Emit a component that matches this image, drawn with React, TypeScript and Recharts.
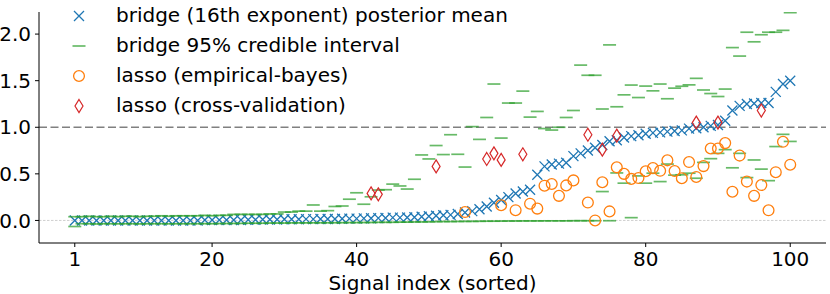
import React from 'react';
import { ScatterChart, Scatter, XAxis, YAxis, ReferenceLine, Legend, Label } from 'recharts';

const signalIndex = [
  1, 2, 3, 4, 5, 6, 7, 8, 9, 10, 11, 12, 13, 14, 15, 16, 17, 18, 19, 20,
  21, 22, 23, 24, 25, 26, 27, 28, 29, 30, 31, 32, 33, 34, 35, 36, 37, 38, 39, 40,
  41, 42, 43, 44, 45, 46, 47, 48, 49, 50, 51, 52, 53, 54, 55, 56, 57, 58, 59, 60,
  61, 62, 63, 64, 65, 66, 67, 68, 69, 70, 71, 72, 73, 74, 75, 76, 77, 78, 79, 80,
  81, 82, 83, 84, 85, 86, 87, 88, 89, 90, 91, 92, 93, 94, 95, 96, 97, 98, 99, 100,
];

const posteriorMean = [
  0, 0, 0, 0, 0, 0, 0, 0, 0, 0,
  0, 0, 0, 0, 0, 0, 0, 0, 0.005, 0.005,
  0.005, 0.005, 0.005, 0.005, 0.008, 0.008, 0.01, 0.01, 0.01, 0.012,
  0.012, 0.012, 0.014, 0.014, 0.015, 0.015, 0.016, 0.018, 0.02, 0.02,
  0.022, 0.024, 0.025, 0.027, 0.03, 0.03, 0.032, 0.035, 0.04, 0.045,
  0.05, 0.055, 0.06, 0.07, 0.085, 0.1, 0.12, 0.15, 0.19, 0.22,
  0.25, 0.29, 0.31, 0.33, 0.49, 0.58, 0.6, 0.61, 0.62, 0.69,
  0.72, 0.75, 0.78, 0.81, 0.85, 0.86, 0.89, 0.905, 0.915, 0.93,
  0.94, 0.945, 0.953, 0.96, 0.967, 0.985, 0.99, 1.0, 1.015, 1.025,
  1.07, 1.18, 1.23, 1.25, 1.255, 1.26, 1.26, 1.38, 1.465, 1.5,
];

const credibleUpper = [
  0.04, 0.04, 0.045, 0.04, 0.04, 0.045, 0.04, 0.045, 0.045, 0.04,
  0.045, 0.045, 0.05, 0.045, 0.05, 0.05, 0.05, 0.05, 0.055, 0.05,
  0.055, 0.055, 0.065, 0.065, 0.065, 0.065, 0.065, 0.07, 0.07, 0.09,
  0.09, 0.1, 0.1, 0.166, 0.1, 0.105, 0.15, 0.155, 0.228, 0.297,
  0.174, 0.254, 0.326, 0.33, 0.39, 0.37, 0.337, 0.442, 0.703, 0.66,
  0.804, 0.707, 0.92, 0.71, 0.573, 1.007, 0.87, 1.105, 1.464, 0.884,
  1.26, 1.26, 1.388, 1.109, 1.17, 0.986, 0.97, 1.0, 1.105, 1.18,
  1.667, 1.558, 1.558, 1.196, 1.884, 1.22, 1.348, 1.453, 1.319, 1.442,
  1.391, 1.464, 1.306, 1.42, 1.44, 1.455, 1.525, 1.4, 1.362, 1.33,
  1.41, 1.855, 1.764, 2.02, 1.917, 1.993, 2.02, 2.02, 2.04, 2.23,
];

const credibleLower = [
  -0.065, -0.035, -0.035, -0.038, -0.035, -0.035, -0.036, -0.035, -0.035, -0.037,
  -0.035, -0.035, -0.035, -0.036, -0.035, -0.035, -0.035, -0.035, -0.034, -0.035,
  -0.033, -0.033, -0.032, -0.032, -0.03, -0.03, -0.03, -0.028, -0.028, -0.028,
  -0.026, -0.026, -0.026, -0.025, -0.025, -0.025, -0.024, -0.024, -0.023, -0.023,
  -0.022, -0.022, -0.02, -0.02, -0.02, -0.018, -0.018, -0.016, -0.016, -0.015,
  -0.013, -0.012, -0.012, -0.011, -0.01, -0.01, -0.009, -0.008, -0.008, -0.007,
  -0.006, -0.006, -0.005, -0.005, -0.005, -0.004, -0.004, -0.004, -0.004, -0.003,
  -0.003, -0.003, -0.003, 0.31, -0.003, 0.51, 0.4, 0.03, 0.478, 0.4,
  0.507, 0.417, 0.605, 0.486, 0.49, 0.507, 0.453, 0.623, 0.663, 0.72,
  0.76, 0.565, 0.72, 0.46, 0.649, 0.551, 0.427, 0.793, 0.924, 0.848,
];

const lassoEbIndex = [
  55, 60, 62, 64, 65, 66, 67, 68, 69, 70, 72, 73, 74, 75,
  76, 77, 78, 79, 80, 81, 82, 83, 84, 85, 86, 87, 88, 89, 90,
  91, 92, 93, 94, 95, 96, 97, 98, 99, 100,
];
const lassoEbValue = [
  0.09, 0.163, 0.11, 0.18, 0.127, 0.373, 0.391, 0.264, 0.376, 0.43, 0.192, 0.0, 0.41, 0.097,
  0.57, 0.5, 0.446, 0.455, 0.528, 0.562, 0.533, 0.645, 0.53, 0.453, 0.627, 0.467, 0.583, 0.772, 0.772,
  0.83, 0.308, 0.696, 0.417, 0.264, 0.38, 0.109, 0.518, 0.844, 0.598,
];

const lassoCvIndex = [42, 43, 51, 58, 59, 60, 63, 72, 74, 76, 87, 90, 96];
const lassoCvValue = [0.29, 0.28, 0.58, 0.66, 0.72, 0.65, 0.71, 0.92, 0.76, 0.91, 1.05, 1.05, 1.18];

const xTicks = [1, 20, 40, 60, 80, 100];
const yTicks = [0, 0.5, 1, 1.5, 2];

const legendLabels = [
  'bridge (16th exponent) posterior mean',
  'bridge 95% credible interval',
  'lasso (empirical-bayes)',
  'lasso (cross-validation)',
];

const BLUE = '#1f77b4';
const GREEN = '#2ca02c';
const ORANGE = '#ff7f0e';
const RED = '#d62728';
const FONT = '"DejaVu Sans", sans-serif';

const meanData = signalIndex.map((x, i) => ({ x, y: posteriorMean[i] }));
const upperData = signalIndex.map((x, i) => ({ x, y: credibleUpper[i] }));
const lowerData = signalIndex.map((x, i) => ({ x, y: credibleLower[i] }));
const ebData = lassoEbIndex.map((x, i) => ({ x, y: lassoEbValue[i] }));
const cvData = lassoCvIndex.map((x, i) => ({ x, y: lassoCvValue[i] }));

const xPath = (cx: number, cy: number, s: number) =>
  `M${cx - s},${cy - s}L${cx + s},${cy + s}M${cx - s},${cy + s}L${cx + s},${cy - s}`;
const dPath = (cx: number, cy: number, w: number, h: number) =>
  `M${cx},${cy - h}L${cx + w},${cy}L${cx},${cy + h}L${cx - w},${cy}Z`;

const XShape = (p: any) => (
  <path d={xPath(p.cx, p.cy, 5)} stroke={BLUE} strokeWidth={1.3} fill="none" />
);
const DashShape = (p: any) => (
  <line x1={p.cx - 6.5} x2={p.cx + 6.5} y1={p.cy} y2={p.cy} stroke={GREEN} strokeWidth={1.7} strokeOpacity={0.72} />
);
const CircleShape = (p: any) => (
  <circle cx={p.cx} cy={p.cy} r={5.4} stroke={ORANGE} strokeWidth={1.3} fill="none" />
);
const DiamondShape = (p: any) => (
  <path d={dPath(p.cx, p.cy, 4, 6.5)} stroke={RED} strokeWidth={1.2} fill="none" />
);

const renderLegend = () => {
  const mx = 79;
  const tx = 116;
  const rows = [16, 46, 76, 106];
  return (
    <svg width={520} height={125} style={{ display: 'block' }}>
      <path d={xPath(mx, rows[0], 5)} stroke={BLUE} strokeWidth={1.3} fill="none" />
      <line x1={mx - 6.5} x2={mx + 6.5} y1={rows[1]} y2={rows[1]} stroke={GREEN} strokeWidth={1.7} strokeOpacity={0.72} />
      <circle cx={mx} cy={rows[2]} r={5.4} stroke={ORANGE} strokeWidth={1.3} fill="none" />
      <path d={dPath(mx, rows[3], 4, 6.5)} stroke={RED} strokeWidth={1.2} fill="none" />
      {legendLabels.map((t, i) => (
        <text key={t} x={tx} y={rows[i] + 5.7} fontFamily={FONT} fontSize={20} fill="#000">
          {t}
        </text>
      ))}
    </svg>
  );
};

const renderXLabel = (props: any) => {
  const vb = props.viewBox || {};
  const cx = (vb.x ?? 39) + (vb.width ?? 787) / 2;
  return (
    <text x={cx} y={289.5} textAnchor="middle" fontFamily={FONT} fontSize={20} fill="#000">
      Signal index (sorted)
    </text>
  );
};

export default function App() {
  return (
    <div style={{ position: 'absolute', left: 0, top: 0, width: 830, height: 294, background: '#fff' }}>
      <ScatterChart width={830} height={294} margin={{ top: 12, right: 4, bottom: 0, left: 0 }}>
        <XAxis
          type="number"
          dataKey="x"
          domain={[-3.95, 104.95]}
          ticks={xTicks}
          allowDataOverflow
          height={51}
          tickSize={4}
          tickMargin={5}
          stroke="#000"
          tick={{ fill: '#000', fontSize: 20, fontFamily: FONT }}
          tickLine={{ stroke: '#000' }}
          axisLine={{ stroke: '#000', strokeWidth: 1 }}
        >
          <Label content={renderXLabel} />
        </XAxis>
        <YAxis
          type="number"
          dataKey="y"
          domain={[-0.242, 2.237]}
          ticks={yTicks}
          allowDataOverflow
          width={39}
          tickSize={4}
          tickMargin={4}
          tickFormatter={(v: number) => v.toFixed(1)}
          stroke="#000"
          tick={{ fill: '#000', fontSize: 20, fontFamily: FONT }}
          tickLine={{ stroke: '#000' }}
          axisLine={{ stroke: '#000', strokeWidth: 1 }}
        />
        <ReferenceLine y={0} stroke="#c4c4c4" strokeWidth={0.8} strokeDasharray="2.5 1.5" />
        <ReferenceLine y={1} stroke="#808080" strokeWidth={1.5} strokeDasharray="8 3.5" />
        <Legend
          layout="horizontal"
          verticalAlign="middle"
          align="center"
          content={renderLegend}
          wrapperStyle={{ position: 'absolute', left: 0, top: 0, width: 520, height: 125 }}
        />
        <Scatter name="mean" data={meanData} shape={XShape} isAnimationActive={false} />
        <Scatter name="upper" data={upperData} shape={DashShape} isAnimationActive={false} />
        <Scatter name="lower" data={lowerData} shape={DashShape} isAnimationActive={false} />
        <Scatter name="eb" data={ebData} shape={CircleShape} isAnimationActive={false} />
        <Scatter name="cv" data={cvData} shape={DiamondShape} isAnimationActive={false} />
      </ScatterChart>
    </div>
  );
}
